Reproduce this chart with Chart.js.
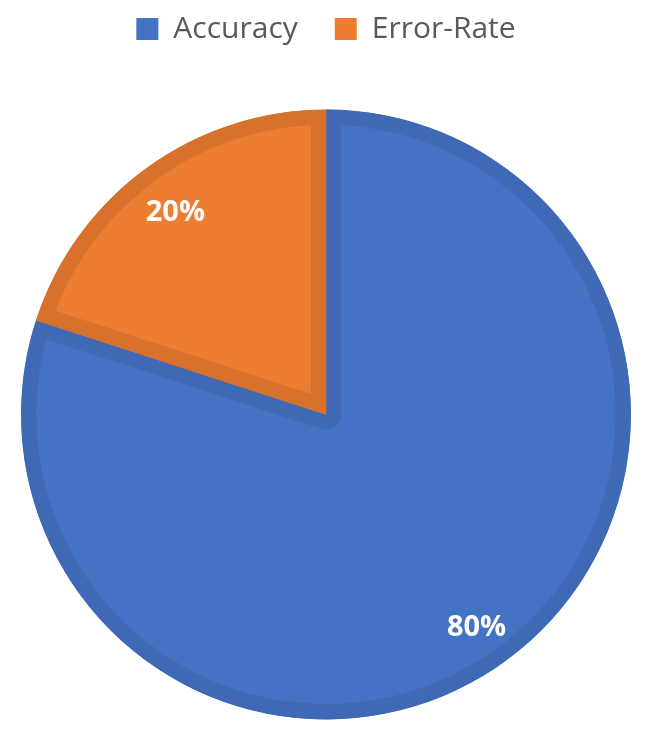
<!DOCTYPE html>
<html>
<head>
<meta charset="utf-8">
<script src="https://cdn.jsdelivr.net/npm/chart.js@4"></script>
<style>
  html, body { margin: 0; padding: 0; background: #fff; }
  #wrap { width: 646px; height: 738px; }
</style>
</head>
<body>
<div id="wrap"><canvas id="pie"></canvas></div>
<script>
const categories = ['Accuracy', 'Error-Rate'];
const values = [80, 20];
const fillColors = ['#4472c4', '#ed7d31'];
const edgeColors = ['#3f68b5', '#d8712c'];

// percent labels inside the slices
const sliceLabels = {
  id: 'sliceLabels',
  afterDatasetsDraw(chart) {
    const ctx = chart.ctx;
    const meta = chart.getDatasetMeta(0);
    const total = values.reduce((a, b) => a + b, 0);
    ctx.save();
    ctx.fillStyle = '#ffffff';
    ctx.font = 'bold 29px "Open Sans", sans-serif';
    ctx.textAlign = 'center';
    ctx.textBaseline = 'middle';
    meta.data.forEach((arc, i) => {
      const p = arc.getProps(['x', 'y', 'startAngle', 'endAngle', 'outerRadius'], true);
      const mid = (p.startAngle + p.endAngle) / 2;
      const r = p.outerRadius * 0.84;
      ctx.fillText(Math.round(values[i] / total * 100) + '%', p.x + Math.cos(mid) * r, p.y + Math.sin(mid) * r + 6);
    });
    ctx.restore();
  }
};

// extra room under the legend
const legendGap = {
  id: 'legendGap',
  beforeInit(chart) {
    const fit = chart.legend.fit;
    chart.legend.fit = function () {
      fit.call(this);
      this.height += 55;
    };
  }
};

new Chart(document.getElementById('pie').getContext('2d'), {
  type: 'pie',
  data: {
    labels: categories,
    datasets: [{
      data: values,
      backgroundColor: fillColors,
      borderColor: edgeColors,
      borderWidth: 15,
      borderAlign: 'inner'
    }]
  },
  options: {
    responsive: true,
    maintainAspectRatio: false,
    animation: false,
    layout: { padding: { top: -23, bottom: 18, left: 21, right: 15 } },
    plugins: {
      legend: {
        position: 'top',
        labels: {
          boxWidth: 22,
          boxHeight: 22,
          padding: 37,
          color: '#595959',
          font: { size: 30, family: '"Open Sans", sans-serif' },
          generateLabels(chart) {
            return categories.map((c, i) => ({
              text: c,
              fillStyle: fillColors[i],
              strokeStyle: fillColors[i],
              lineWidth: 0,
              fontColor: '#595959',
              index: i
            }));
          }
        }
      },
      tooltip: { enabled: false }
    }
  },
  plugins: [sliceLabels, legendGap]
});
</script>
</body>
</html>
